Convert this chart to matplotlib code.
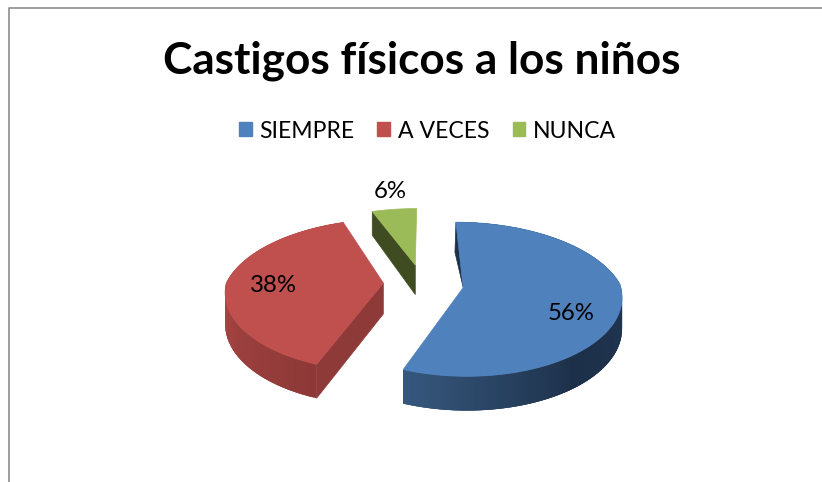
import numpy as np
import matplotlib
matplotlib.use('Agg')
import matplotlib.pyplot as plt
from matplotlib.patches import Polygon, Patch
from matplotlib.colors import to_rgb

title = 'Castigos físicos a los niños'
categories = ['SIEMPRE', 'A VECES', 'NUNCA']
values = [56, 38, 6]
colors = ['#4F81BD', '#C0504D', '#9BBB59']

plt.rcParams['font.family'] = ['Lato', 'DejaVu Sans']

# pie centre and size on the page, in pixels
cx, cy = 422, 283
rx, ry = 157, 80
depth = 31
explode = 0.24
nudge = {'SIEMPRE': (4, 1), 'A VECES': (-1, 0), 'NUNCA': (0, 0)}


def project(x, y, z=0.0):
    # rough perspective, back of the pie shrinks faster than the front grows
    s = np.where(y > 0, 1 - 0.2 * y, 1 - 0.1 * y)
    return cx + rx * x * s, cy - ry * y * s + depth * z * s


def mix(c1, c2, t):
    c1, c2 = np.array(to_rgb(c1)), np.array(to_rgb(c2))
    return tuple(c1 + (c2 - c1) * t)


fig = plt.figure(figsize=(8.22, 4.82), dpi=100)
ax = fig.add_axes([0, 0, 1, 1])
ax.set_xlim(0, 822)
ax.set_ylim(482, 0)
ax.axis('off')

# frame of the chart area, only top and left are in the crop
ax.plot([9, 9, 822], [482, 7.5, 7.5], color='#8E8E8E', lw=1.2)

angles = np.cumsum([0] + values) / sum(values) * 360
slices = {}
for i, name in enumerate(categories):
    a0, a1 = np.radians(angles[i]), np.radians(angles[i + 1])
    mid = (a0 + a1) / 2
    slices[name] = (a0, a1, explode * np.sin(mid), explode * np.cos(mid), colors[i])


def draw_top(name):
    a0, a1, ox, oy, col = slices[name]
    t = np.linspace(a0, a1, 200)
    xs = np.r_[ox, ox + np.sin(t)]
    ys = np.r_[oy, oy + np.cos(t)]
    px, py = project(xs, ys)
    dx, dy = nudge[name]
    ax.add_patch(Polygon(np.c_[px + dx, py + dy], closed=True, fc=col, ec=col, lw=0.5, zorder=3))


def draw_radial(name, angle, col):
    a0, a1, ox, oy, _ = slices[name]
    xs = np.array([ox, ox + np.sin(angle), ox + np.sin(angle), ox])
    ys = np.array([oy, oy + np.cos(angle), oy + np.cos(angle), oy])
    zs = np.array([0, 0, 1, 1])
    px, py = project(xs, ys, zs)
    dx, dy = nudge[name]
    ax.add_patch(Polygon(np.c_[px + dx, py + dy], closed=True, fc=col, ec=col, lw=0.5, zorder=2))


def draw_rim(name, stops, cols):
    a0, a1, ox, oy, _ = slices[name]
    t = np.linspace(a0, a1, 160)
    dx, dy = nudge[name]
    # each strip overlaps the next one, so no seams show
    for k in range(len(t) - 1):
        end = min(k + 3, len(t) - 1)
        xs = ox + np.sin([t[k], t[end], t[end], t[k]])
        ys = oy + np.cos([t[k], t[end], t[end], t[k]])
        px, py = project(xs, ys, np.array([0, 0, 1, 1]))
        deg = np.degrees(t[k])
        j = np.clip(np.searchsorted(stops, deg) - 1, 0, len(stops) - 2)
        f = np.clip((deg - stops[j]) / (stops[j + 1] - stops[j]), 0, 1)
        col = mix(cols[j], cols[j + 1], f)
        ax.add_patch(Polygon(np.c_[px + dx, py + dy], closed=True, fc=col, ec='none', lw=0, zorder=1))


# side walls
draw_rim('SIEMPRE', [60, 90, 140, 201.6], ['#1F3550', '#1F3550', '#1D3049', '#37597F'])
draw_rim('A VECES', [201.6, 270, 338], ['#8D3937', '#A84644', '#A84644'])
draw_radial('A VECES', np.radians(angles[1]), '#8E3A38')
draw_radial('NUNCA', np.radians(angles[2]), '#3F4B20')

# thin dark sliver on the inner edge of the blue slice
a0, a1, ox, oy, _ = slices['SIEMPRE']
px, py = project(np.array([ox, ox + np.sin(a0)]), np.array([oy, oy + np.cos(a0)]))
dx, dy = nudge['SIEMPRE']
ax.add_patch(Polygon([(px[1] + dx, py[1] + dy), (px[0] + dx, py[0] + dy), (px[1] + dx - 1, py[1] + dy + 30)],
                     closed=True, fc='#1D3049', ec='#1D3049', lw=0.5, zorder=2))

for name in categories:
    draw_top(name)

# percent labels
label_pos = [(571, 313), (273, 285), (390, 191)]
for v, (lx, ly) in zip(values, label_pos):
    ax.text(lx, ly, f'{v}%', fontsize=17.3, color='black', ha='center', va='center', zorder=5)

ax.text(422, 61, title, fontsize=31.8, fontweight='bold', color='black', ha='center', va='center')

handles = [Patch(fc=c, ec=c) for c in colors]
ax.legend(handles, categories, ncols=3, loc='center', bbox_to_anchor=(427.5, 131),
          bbox_transform=ax.transData, frameon=False, fontsize=16.6,
          handlelength=0.56, handleheight=0.56, handletextpad=0.33, columnspacing=1.0,
          borderpad=0, borderaxespad=0)

fig.savefig('out.png', dpi=100)
